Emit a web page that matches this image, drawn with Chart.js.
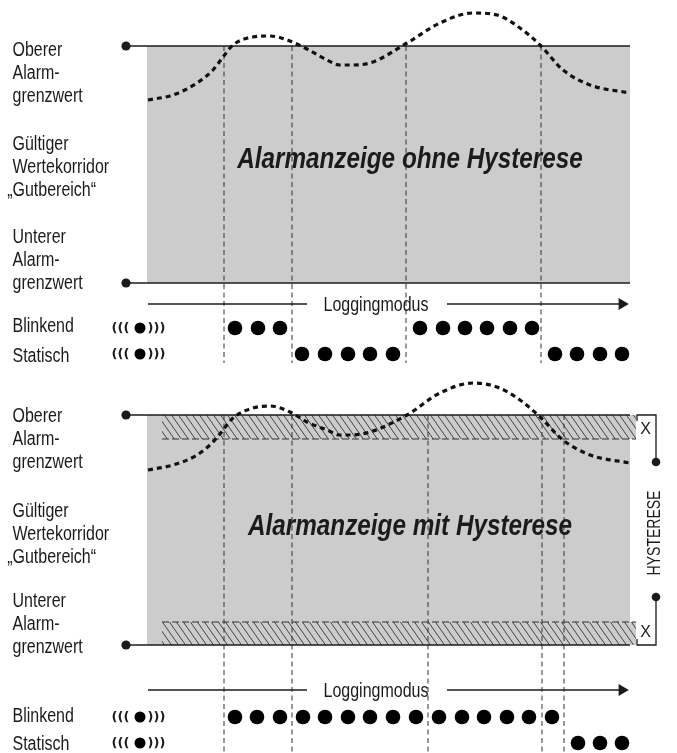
<!DOCTYPE html>
<html>
<head>
<meta charset="utf-8">
<script src="https://cdn.jsdelivr.net/npm/chart.js@4.4.1/dist/chart.umd.min.js"></script>
<style>
  html, body { margin: 0; padding: 0; background: #fff; }
  canvas { display: block; }
</style>
</head>
<body>
<canvas id="diagram" width="677" height="753"></canvas>
<script>
// schematic units: x = time (left to right), y = value drawn top-down as on the sheet
const limitStartX = 126;
const corridorX = [147, 630];
const limitsTop = [46, 283];       // upper / lower alarm limit, panel "ohne Hysterese"
const limitsBottom = [415, 645];   // upper / lower alarm limit, panel "mit Hysterese"
const bandTop = [415, 439];        // hysteresis band below upper limit
const bandBottom = [622, 645];     // hysteresis band above lower limit
const bandX = [162, 636];

// measured signal (dashed curve)
const curveX = [148, 173, 197, 213, 223, 233, 253, 270, 290, 307, 327, 340, 350, 370, 407, 440, 473, 497, 520, 540, 563, 590, 630];
const curveTop = [100, 95, 83, 70, 57, 45, 37, 36, 41, 49, 60, 65, 65, 63, 43, 23, 13, 15, 28, 45, 70, 85, 93];
const curveBottom = [470, 465, 455, 442, 430, 418, 408, 406, 412, 422, 430, 435, 435, 432, 415, 393, 383, 387, 400, 417, 440, 455, 463];

// switching instants (dashed verticals)
const switchTop = [224, 292, 406, 541];
const switchTopSpan = [46, 363];
const switchBottom = [224, 292, 428, 542, 564];
const switchBottomSpan = [415, 753];

// LED rows: blinking / static
const rowsTop = [328, 354];
const rowsBottom = [717, 743];
const blinkTop = [235, 258, 280, 420, 443, 465, 487, 510, 532];
const staticTop = [302, 325, 348, 370, 393, 555, 577, 600, 622];
const blinkBottom = [235, 257, 280, 303, 325, 348, 370, 393, 416, 439, 462, 484, 507, 529, 552];
const staticBottom = [578, 600, 622];
const iconX = 140;

// Loggingmodus arrow
const logY = [304, 690];
const logLeft = [148, 307];
const logRight = [447, 622];

// hysteresis bracket
const bracketX = [637, 656];
const bracketDots = [462, 597];

// texts
const sideLabels = [['Oberer', 'Alarm-', 'grenzwert'], ['Gültiger', 'Wertekorridor', '„Gutbereich“'], ['Unterer', 'Alarm-', 'grenzwert']];
const sideBaseTop = [56, 150, 243];
const sideBaseBottom = [422, 517, 607];
const rowLabels = ['Blinkend', 'Statisch'];
const rowBaseTop = [332, 362];
const rowBaseBottom = [722, 750];
const titles = ['Alarmanzeige ohne Hysterese', 'Alarmanzeige mit Hysterese'];
const titleY = [160, 527];
const logLabel = 'Loggingmodus';
const hystLabel = 'HYSTERESE';

const INK = '#1c1a1b';
const GREY = '#cccccc';
const FONT = '"Liberation Sans", Arial, sans-serif';
const NARROW = 0.8;   // Helvetica condensed look

function hatchPattern() {
    const c = document.createElement('canvas');
    c.width = 7; c.height = 10;
    const g = c.getContext('2d');
    g.fillStyle = GREY;
    g.fillRect(0, 0, 7, 10);
    g.strokeStyle = '#333';
    g.lineWidth = 0.9;
    g.beginPath();
    for (let k = -1; k <= 1; k++) {
        g.moveTo(k * 7 - 7, -10);
        g.lineTo(k * 7 + 14, 20);
    }
    g.stroke();
    return g.createPattern(c, 'repeat');
}

function line(points, opts) {
    return Object.assign({
        type: 'line', data: points, pointRadius: 0, borderWidth: 1,
        borderColor: INK, fill: false, tension: 0, order: 1
    }, opts);
}

function dots(xs, y, r) {
    return {
        type: 'scatter', data: xs.map(x => ({ x, y })), pointRadius: r,
        pointHoverRadius: r, backgroundColor: '#000', borderWidth: 0, order: 1
    };
}

const pattern = hatchPattern();
const datasets = [];

function panel(limits, curve, switches, span, rows, blink, stat, ly) {
    // corridor
    datasets.push(line([{ x: corridorX[0], y: limits[0] }, { x: corridorX[1], y: limits[0] }],
        { fill: { value: limits[1] }, backgroundColor: GREY, borderWidth: 0, order: 6 }));
    // alarm limits
    limits.forEach(v => datasets.push(line([{ x: limitStartX, y: v }, { x: corridorX[1], y: v }],
        { borderWidth: 1.5, pointRadius: [4.6, 0], pointBackgroundColor: INK, pointBorderWidth: 0 })));
    // switching instants
    switches.forEach(x => datasets.push(line([{ x, y: span[0] }, { x, y: span[1] }],
        { borderDash: [5, 3.5], borderColor: '#333', order: 2 })));
    // signal
    datasets.push(line(curveX.map((x, i) => ({ x, y: curve[i] })),
        { borderWidth: 3.2, borderDash: [5, 4], borderColor: '#111', cubicInterpolationMode: 'monotone', order: 0 }));
    // LEDs
    datasets.push(dots(blink, rows[0], 7.3));
    datasets.push(dots(stat, rows[1], 7.3));
    rows.forEach(y => datasets.push(dots([iconX], y, 5.5)));
    // Loggingmodus arrow
    datasets.push(line([{ x: logLeft[0], y: ly }, { x: logLeft[1], y: ly }], { borderWidth: 1.4 }));
    datasets.push(line([{ x: logRight[0], y: ly }, { x: logRight[1], y: ly }],
        { borderWidth: 1.4, pointStyle: 'triangle', pointRotation: 90, pointRadius: [0, 6.8],
          pointBackgroundColor: INK, pointBorderWidth: 0 }));
}

panel(limitsTop, curveTop, switchTop, switchTopSpan, rowsTop, blinkTop, staticTop, logY[0]);
panel(limitsBottom, curveBottom, switchBottom, switchBottomSpan, rowsBottom, blinkBottom, staticBottom, logY[1]);

// hysteresis bands
[bandTop, bandBottom].forEach((b, i) => {
    datasets.push(line([{ x: bandX[0], y: b[0] }, { x: bandX[1], y: b[0] }],
        { fill: { value: b[1] }, backgroundColor: pattern, borderWidth: 0, order: 5 }));
    const edge = i === 0 ? b[1] : b[0];
    datasets.push(line([{ x: bandX[0], y: edge }, { x: bandX[1], y: edge }],
        { borderDash: [7, 3], borderColor: '#333', order: 4 }));
});

// bracket "X" + HYSTERESE
datasets.push(line([
    { x: bracketX[0], y: bandTop[0] + 6 }, { x: bracketX[0], y: bandTop[0] },
    { x: bracketX[1], y: bandTop[0] }, { x: bracketX[1], y: bracketDots[0] }
], { borderWidth: 1.3, pointRadius: [0, 0, 0, 4.3], pointBackgroundColor: INK, pointBorderWidth: 0 }));
datasets.push(line([
    { x: bracketX[1], y: bracketDots[1] }, { x: bracketX[1], y: bandBottom[1] },
    { x: bracketX[0], y: bandBottom[1] }, { x: bracketX[0], y: bandBottom[1] - 6 }
], { borderWidth: 1.3, pointRadius: [4.3, 0, 0, 0], pointBackgroundColor: INK, pointBorderWidth: 0 }));

function narrowText(ctx, t, px, py, sx) {
    ctx.save();
    ctx.translate(px, py);
    ctx.scale(sx, 1);
    ctx.fillText(t, 0, 0);
    ctx.restore();
}

const textPlugin = {
    id: 'schemaText',
    afterDatasetsDraw(chart) {
        const { ctx, scales: { x, y } } = chart;
        ctx.save();
        ctx.fillStyle = INK;
        ctx.textAlign = 'left';
        ctx.textBaseline = 'alphabetic';
        ctx.font = '20px ' + FONT;
        const left = x.getPixelForValue(12.5);

        [sideBaseTop, sideBaseBottom].forEach(bases => {
            sideLabels.forEach((block, b) => {
                block.forEach((t, i) => {
                    let px = left;
                    if (t.startsWith('„')) px -= ctx.measureText('„').width * NARROW;
                    narrowText(ctx, t, px, y.getPixelForValue(bases[b] + i * 23), NARROW);
                });
            });
        });
        [rowBaseTop, rowBaseBottom].forEach(bases => {
            rowLabels.forEach((t, i) => narrowText(ctx, t, left, y.getPixelForValue(bases[i]), NARROW));
        });

        // LED icon brackets
        ctx.font = 'bold 13px "DejaVu Sans", sans-serif';
        ctx.textBaseline = 'middle';
        ctx.textAlign = 'center';
        [...rowsTop, ...rowsBottom].forEach(r => {
            const py = y.getPixelForValue(r) + 0.5;
            ctx.fillText('(((', x.getPixelForValue(120.5), py);
            ctx.fillText(')))', x.getPixelForValue(156.5), py);
        });

        // Loggingmodus
        ctx.font = '20px ' + FONT;
        ctx.textBaseline = 'alphabetic';
        logY.forEach(ly => narrowText(ctx, logLabel, x.getPixelForValue(376), y.getPixelForValue(ly + 7), NARROW));

        // titles
        ctx.font = 'italic bold 30px ' + FONT;
        ctx.textBaseline = 'middle';
        titles.forEach((t, i) => narrowText(ctx, t, x.getPixelForValue(410), y.getPixelForValue(titleY[i]), 0.81));

        // X markers
        ctx.font = '16px ' + FONT;
        ctx.fillText('X', x.getPixelForValue(645.5), y.getPixelForValue(bandTop[0] + 15));
        ctx.fillText('X', x.getPixelForValue(645.5), y.getPixelForValue(bandBottom[1] - 12));

        // HYSTERESE, rotated
        ctx.font = '17.5px ' + FONT;
        ctx.translate(x.getPixelForValue(655), y.getPixelForValue(533));
        ctx.rotate(-Math.PI / 2);
        narrowText(ctx, hystLabel, 0, 0, NARROW);
        ctx.restore();
    }
};

new Chart(document.getElementById('diagram'), {
    type: 'scatter',
    data: { datasets },
    options: {
        responsive: false,
        animation: false,
        devicePixelRatio: 1,
        layout: { padding: 0, autoPadding: false },
        plugins: { legend: { display: false }, tooltip: { enabled: false } },
        scales: {
            x: { type: 'linear', min: 0, max: 677, display: false },
            y: { type: 'linear', min: 0, max: 753, reverse: true, display: false }
        }
    },
    plugins: [textPlugin]
});
</script>
</body>
</html>
